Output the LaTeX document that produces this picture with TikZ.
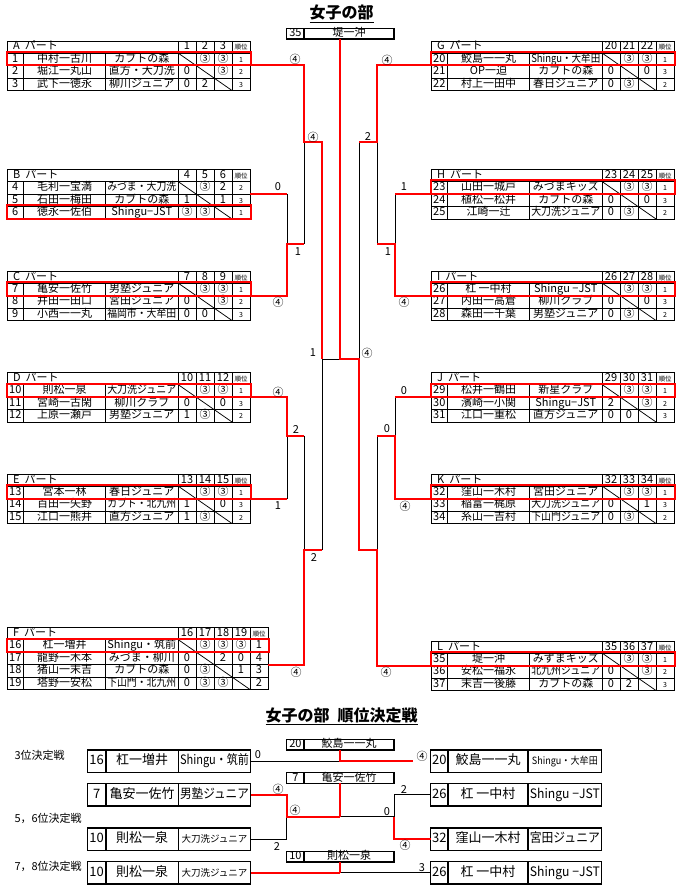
\documentclass[tikz,border=0pt]{standalone}
\usepackage{fontspec}
\setmainfont{Noto Sans CJK JP}
\usepackage{graphicx}
\usetikzlibrary{positioning}

\newsavebox\fitbox
\newcommand\fitto[2]{\sbox\fitbox{#2}\ifdim\wd\fitbox>#1\relax\resizebox{#1}{\height}{#2}\else\usebox\fitbox\fi}
\newcommand\rkfont{\fontsize{7}{7}\selectfont}

\newcommand\grouptab[8]{%
  \pgfmathsetmacro\xr{#2+171+18*(#5+1)}%
  \pgfmathsetmacro\yb{#3+12+12.5*#5}%
  \pgfmathtruncatemacro\nl{#5-1}%
  \draw[tbl] (#2,#3) rectangle (\xr,\yb);
  \foreach \k in {0,...,\nl} \draw[tbl] (#2,{#3+12+12.5*\k}) -- (\xr,{#3+12+12.5*\k});
  \draw[tbl] ({#2+16.5},{#3+12}) -- ({#2+16.5},\yb);
  \draw[tbl] ({#2+98.5},{#3+12}) -- ({#2+98.5},\yb);
  \foreach \k in {0,...,#5} \draw[tbl] ({#2+171+18*\k},#3) -- ({#2+171+18*\k},\yb);
  \node[cell,anchor=west] (#1-hd) at ({#2+6},{#3+6}) {#4\hspace{.45em}パート};
  \foreach \k in {1,...,#5} {\pgfmathtruncatemacro\hn{#6+\k-1}
    \node[cell] (#1-h\k) at ({#2+171+18*\k-9},{#3+6}) {\hn};}
  \node[cell,font=\fontsize{6.5}{7}\selectfont] (#1-hr) at ({\xr-9},{#3+6}) {順位};
  \foreach \pno/\pnm/\ptm/\pres/\prk [count=\i] in {#8} {
    \pgfmathsetmacro\yc{#3+12+12.5*\i-6.25}
    \node[cell] (#1\i-no) at ({#2+8.25},\yc) {\pno};
    \node[cell] (#1\i-nm) at ({#2+57.5},\yc) {\fitto{76pt}{\pnm}};
    \node[cell] (#1\i-tm) at ({#2+134.75},\yc) {\fitto{69pt}{\ptm}};
    \foreach \s [count=\j] in \pres {\node[cell] (#1\i-r\j) at ({#2+171+18*\j-9},\yc) {\s};}
    \draw[tbl] ({#2+171+18*(\i-1)},{\yc-6.25}) -- ({#2+171+18*\i},{\yc+6.25});
    \node[cell,font=\rkfont] (#1\i-rk) at ({\xr-9},\yc) {\prk};
    \coordinate (#1-e\i) at (\xr,{\yc+6.25});
    \coordinate (#1-w\i) at (#2,{\yc+6.25});
  }
  \draw[rl] ({#2-0.5},{#3+12.5*#7-1.5}) rectangle ({\xr+0.5},{#3+12+12.5*#7});
}

\newcommand\entrybox[9]{%
  \node[ebox,minimum width=#4,anchor=west] (#1n) at (#2,#3) {#7};
  \node[ebox,minimum width=#5,right=0pt of #1n] (#1p) {#8};
  \node[ebox,minimum width=#6,right=0pt of #1p] (#1t) {#9};
}

\newcommand\resbox[4]{%
  \node[rbox,minimum width=17.3pt,anchor=west] (#1n) at (286.7,#2) {#3};
  \node[rbox,minimum width=90pt,right=0pt of #1n] (#1p) {#4};
}

\begin{document}
\begin{tikzpicture}[x=1pt,y=-1pt,
  tbl/.style={line width=0.75pt},
  rl/.style={red,line width=2pt},
  bl/.style={line width=0.9pt},
  cell/.style={inner sep=0pt,text height=7.5pt,text depth=1.5pt,font=\fontsize{11}{11}\selectfont},
  sc/.style={inner sep=0pt,font=\fontsize{11}{11}\selectfont},
  ebox/.style={draw,line width=1.5pt,minimum height=22.7pt,inner sep=0pt,outer sep=0pt,
    text height=9pt,text depth=2pt,font=\fontsize{13}{13}\selectfont},
  rbox/.style={draw,line width=1.2pt,minimum height=10.7pt,inner sep=0pt,outer sep=0pt,
    text height=8pt,text depth=1.5pt,font=\fontsize{11}{11}\selectfont}]
  \path[fill=white,use as bounding box] (0,0) rectangle (680,890);

  \node[anchor=base,font=\fontsize{16}{16}\selectfont\bfseries] (title) at (341.5,19) {\underline{女子の部}};
  \resbox{champ}{33.7}{35}{堤一沖}

  \grouptab{A}{7}{41}{A}{3}{1}{1}{1/中村一古川/カブトの森/{{},③,③}/1,
    2/堀江一丸山/直方・大刀洗/{0,{},③}/2, 3/武下一徳永/柳川ジュニア/{0,2,{}}/3}
  \grouptab{B}{7}{169.5}{B}{3}{4}{3}{4/毛利一宝満/みづま・大刀洗/{{},③,2}/2,
    5/石田一梅田/カブトの森/{1,{},1}/3, 6/徳永一佐伯/Shingu−JST/{③,③,{}}/1}
  \grouptab{C}{7}{271}{C}{3}{7}{1}{7/亀安一佐竹/男塾ジュニア/{{},③,③}/1,
    8/井田一田口/宮田ジュニア/{0,{},③}/2, 9/小西一一丸/福岡市・大牟田/{0,0,{}}/3}
  \grouptab{D}{7}{372.5}{D}{3}{10}{1}{10/則松一泉/大刀洗ジュニア/{{},③,③}/1,
    11/宮崎一古閑/柳川クラブ/{0,{},0}/3, 12/上原一瀬戸/男塾ジュニア/{1,③,{}}/2}
  \grouptab{E}{7}{474}{E}{3}{13}{1}{13/宮本一林/春日ジュニア/{{},③,③}/1,
    14/百田一矢野/カブト・北九州/{1,{},0}/3, 15/江口一熊井/直方ジュニア/{1,③,{}}/2}
  \begin{scope}
    \renewcommand\rkfont{\fontsize{11}{11}\selectfont}
    \grouptab{F}{7}{627.5}{F}{4}{16}{1}{16/杠一増井/Shingu・筑前/{{},③,③,③}/1,
      17/龍野一木本/みづま・柳川/{0,{},2,0}/4, 18/猪山一末吉/カブトの森/{0,③,{},1}/3,
      19/塔野一安松/下山門・北九州/{0,③,③,{}}/2}
  \end{scope}
  \grouptab{G}{431}{41}{G}{3}{20}{1}{20/鮫島一一丸/Shingu・大牟田/{{},③,③}/1,
    21/OP一迫/カブトの森/{0,{},0}/3, 22/村上一田中/春日ジュニア/{0,③,{}}/2}
  \grouptab{H}{431}{169.5}{H}{3}{23}{1}{23/山田一城戸/みづまキッズ/{{},③,③}/1,
    24/植松一松井/カブトの森/{0,{},0}/3, 25/江崎一辻/大刀洗ジュニア/{0,③,{}}/2}
  \grouptab{I}{431}{271}{I}{3}{26}{1}{26/杠 一中村/Shingu −JST/{{},③,③}/1,
    27/内田一高倉/柳川クラブ/{0,{},0}/3, 28/森田一千葉/男塾ジュニア/{0,③,{}}/2}
  \grouptab{J}{431}{372.5}{J}{3}{29}{1}{29/松井一鶴田/新星クラブ/{{},③,③}/1,
    30/濱崎一小関/Shingu−JST/{2,{},③}/2, 31/江口一重松/直方ジュニア/{0,0,{}}/3}
  \grouptab{K}{431}{474}{K}{3}{32}{1}{32/窪山一木村/宮田ジュニア/{{},③,③}/1,
    33/稲富一梶原/大刀洗ジュニア/{0,{},1}/3, 34/糸山一吉村/下山門ジュニア/{0,③,{}}/2}
  \grouptab{L}{431}{641}{L}{3}{35}{1}{35/堤一沖/みずまキッズ/{{},③,③}/1,
    36/安松一福永/北九州ジュニア/{0,{},③}/2, 37/末吉一後藤/カブトの森/{0,2,{}}/3}

  \coordinate (ql1) at (304,142.3);
  \coordinate (qbc) at (287,243.7);
  \coordinate (qde) at (287,435.7);
  \coordinate (ql2) at (304,550);
  \coordinate (sl) at (322,359);
  \coordinate (fin) at (340,359);
  \coordinate (sr) at (359,359);
  \coordinate (qr1) at (377,142.3);
  \coordinate (qhi) at (395,243.7);
  \coordinate (qjk) at (395,435.7);
  \coordinate (qr2) at (377,550);

  \draw[bl] (B-e1 -| qbc) -- (qbc);
  \draw[bl] (qbc -| ql1) -- (ql1);
  \draw[bl] (E-e1 -| qde) -- (qde);
  \draw[bl] (qde -| ql2) -- (ql2);
  \draw[bl] (ql2 -| sl) -- (sl) -- (fin);
  \draw[bl] (H-w1 -| qhi) -- (qhi);
  \draw[bl] (qhi -| qr1) -- (qr1);
  \draw[bl] (J-w1 -| qjk) -- (qjk);
  \draw[bl] (qjk -| qr2) -- (qr2);
  \draw[bl] (qr1 -| sr) -- (sr);

  \draw[rl] (A-e1) -| (ql1) -- (ql1 -| sl) -- (sl);
  \draw[rl] (B-e1) -- (B-e1 -| qbc);
  \draw[rl] (C-e1) -| (qbc) -- (qbc -| ql1);
  \draw[rl] (D-e1) -| (qde) -- (qde -| ql2);
  \draw[rl] (E-e1) -- (E-e1 -| qde);
  \draw[rl] (F-e2) -| (ql2) -- (ql2 -| sl);
  \draw[rl] (G-w1) -| (qr1) -- (qr1 -| sr);
  \draw[rl] (H-w1) -- (H-w1 -| qhi);
  \draw[rl] (I-w1) -| (qhi) -- (qhi -| qr1);
  \draw[rl] (J-w1) -- (J-w1 -| qjk);
  \draw[rl] (K-w1) -| (qjk) -- (qjk -| qr2);
  \draw[rl] (champp.south -| fin) -- (fin) -- (sr) -- (qr2 -| sr) -- (qr2) |- (L-w1);

  \foreach \p/\t [count=\i] in {{295,59}/④, {313,137}/④, {278,187}/0, {298,252}/1, {278,302}/④,
    {313,353}/1, {278,392}/④, {296,430}/2, {278,506}/1, {314,558}/2, {296,672}/④,
    {387,60}/④, {368,137}/2, {404,187}/1, {388,252}/1, {404,302}/④, {367,353}/④,
    {404,391}/0, {387,429}/0, {405,506}/④, {386,672}/④}
    \node[sc] (s\i) at (\p) {\t};

  \node[anchor=base,font=\fontsize{16}{16}\selectfont\bfseries] (title2) at (341.5,721) {\underline{女子の部\hspace{.5em}順位決定戦}};
  \node[anchor=west,font=\fontsize{11}{11}\selectfont] (lab3) at (11,755) {3位決定戦};
  \node[anchor=west,font=\fontsize{11}{11}\selectfont] (lab56) at (11,818) {5，6位決定戦};
  \node[anchor=west,font=\fontsize{11}{11}\selectfont] (lab78) at (11,866.7) {7，8位決定戦};

  \resbox{rs20}{744.7}{20}{鮫島一一丸}
  \resbox{rs7}{778}{7}{亀安一佐竹}
  \resbox{rs10}{856.7}{10}{則松一泉}

  \entrybox{b16}{87.3}{761.3}{18.7pt}{72.3pt}{72.4pt}{16}{杠一増井}{\fitto{69pt}{Shingu・筑前}}
  \entrybox{b7}{87.3}{794.7}{18.7pt}{72.3pt}{72.4pt}{7}{亀安一佐竹}{\fitto{69pt}{男塾ジュニア}}
  \entrybox{b10}{87.3}{839.2}{18.7pt}{72.3pt}{72.4pt}{10}{則松一泉}{\fontsize{9.5}{10}\selectfont 大刀洗ジュニア}
  \entrybox{d10}{87.3}{872.8}{18.7pt}{72.3pt}{72.4pt}{10}{則松一泉}{\fontsize{9.5}{10}\selectfont 大刀洗ジュニア}
  \entrybox{b20}{430.7}{761.3}{17.3pt}{80pt}{73.7pt}{20}{鮫島一一丸}{\fontsize{10}{10}\selectfont\fitto{66pt}{Shingu・大牟田}}
  \entrybox{b26}{430.7}{794.7}{17.3pt}{80pt}{73.7pt}{26}{杠 一中村}{\fitto{70pt}{Shingu −JST}}
  \entrybox{b32}{430.7}{839.2}{17.3pt}{80pt}{73.7pt}{32}{窪山一木村}{\fitto{70pt}{宮田ジュニア}}
  \entrybox{d26}{430.7}{872.8}{17.3pt}{80pt}{73.7pt}{26}{杠 一中村}{\fitto{70pt}{Shingu −JST}}

  \coordinate (m3) at (340,761.3);
  \coordinate (e3) at (413,761.3);
  \coordinate (q56l) at (286.7,816.7);
  \coordinate (m56) at (340,816.7);
  \coordinate (q56r) at (394.3,816.7);
  \coordinate (m78) at (340,872.8);

  \draw[bl] (b16t.east) -- (m3);
  \draw[bl] (b10t.east) -| (q56l);
  \draw[bl] (m56) -- (q56r);
  \draw[bl] (b26n.west) -| (q56r);
  \draw[bl] (m78) -- (d26n.west);
  \draw[rl] (rs20p.south -| m3) -- (m3) -- (e3);
  \draw[rl] (b7t.east) -| (q56l) -- (m56);
  \draw[rl] (rs7p.south -| m56) -- (m56);
  \draw[rl] (q56r) |- (b32n.west);
  \draw[rl] (d10t.east) -- (m78);
  \draw[rl] (rs10p.south -| m78) -- (m78);

  \foreach \p/\t [count=\i] in {{258,755}/0, {422,756}/④, {278,789}/④, {295,810}/④,
    {277,846.7}/2, {387,811.7}/0, {404,789}/2, {405,845.7}/④, {422,868}/3}
    \node[sc] (t\i) at (\p) {\t};
\end{tikzpicture}
\end{document}
